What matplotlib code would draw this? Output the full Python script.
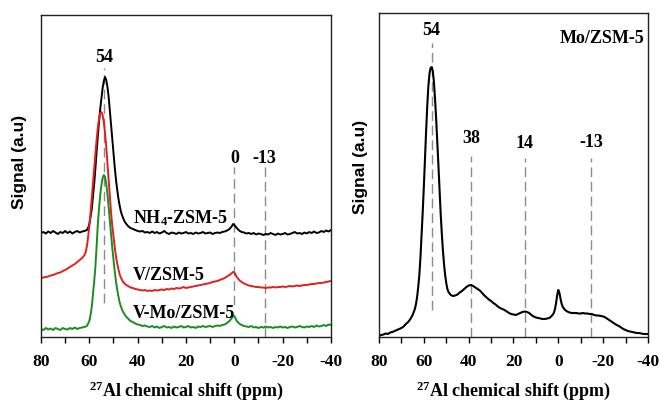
import matplotlib
matplotlib.use("Agg")
import matplotlib.pyplot as plt
from matplotlib.ticker import MultipleLocator

plt.rcParams['font.family'] = ['Liberation Serif', 'DejaVu Serif']
plt.rcParams['font.weight'] = 'bold'
plt.rcParams['mathtext.default'] = 'regular'

# ---------------- data ----------------
# Left panel: NH4-ZSM-5 (black)
nh4_ppm = [80, 79, 78, 77, 76, 75, 74, 73, 72, 71, 70, 69, 68, 67, 66, 65, 64, 63, 62, 61,
           60.5, 60, 59.5, 59, 58.5, 58, 57.5, 57, 56.5, 56, 55.5, 55, 54.5, 54, 53.5, 53, 52.5,
           52, 51.5, 51, 50.5, 50, 49.5, 49, 48.5, 48, 47.5, 47, 46.5, 46, 45.5, 45, 44.5, 44,
           43, 42, 41, 40, 39, 38, 37, 36, 35, 34, 33, 32, 31, 30, 29, 28, 27, 26, 25, 24, 23,
           22, 21, 20, 19, 18, 17, 16, 15, 14, 13, 12, 11, 10, 9, 8, 7, 6, 5, 4, 3, 2, 1, 0.5,
           0, -1, -2, -3, -4, -5, -6, -7, -8, -9, -10, -11, -12, -13, -14, -15, -16, -17, -18,
           -19, -20, -21, -22, -23, -24, -25, -26, -27, -28, -29, -30, -31, -32, -33, -34, -35,
           -36, -37, -38, -39, -40]
nh4_sig = [104, 105, 103.5, 105.5, 104, 106, 104.5, 103, 105, 104, 106, 104, 105.5, 103.5, 105,
           106, 104.5, 105.5, 106, 107,
           109, 113, 120, 128, 140, 153, 168, 185, 200, 215, 228, 239, 249, 256, 260, 257, 250,
           240, 226, 212, 198, 184, 170, 158, 148, 139, 132, 126, 122, 119, 116, 114, 112.5, 111,
           109, 108, 107, 106, 105.5, 106, 104.5, 105, 104, 105.5, 104, 105, 103.5, 104.5, 106,
           104, 103, 104.5, 104, 103, 104.5,
           103.5, 104, 105, 103.5, 104, 103, 104.5, 103.5, 104, 105, 103.5, 104, 104.5, 103, 104,
           104.5, 104, 105, 105.5, 106.5, 108, 111, 113,
           112, 109, 106.5, 105, 104.5, 103.5, 104, 103, 104, 102.5, 103.5, 103, 102, 103, 102.5,
           104, 103, 102, 103.5,
           102.5, 103, 104, 102.5, 103, 104, 105, 103.5, 104, 103, 104.5, 103.5, 105, 104, 105.5,
           104, 104.5, 106, 105, 106.5, 105.5, 107]

# Left panel: V/ZSM-5 (red)
v_ppm = [80, 79, 78, 77, 76, 75, 74, 73, 72, 71, 70, 69, 68, 67, 66, 65, 64, 63, 62, 61.5, 61,
         60.5, 60, 59.5, 59, 58.5, 58, 57.5, 57, 56.5, 56, 55.5, 55, 54.5, 54, 53.5, 53, 52.5,
         52, 51.5, 51, 50.5, 50, 49.5, 49, 48.5, 48, 47.5, 47, 46, 45, 44, 43, 42, 41, 40, 39,
         38, 37, 36, 35, 34, 33, 32, 31, 30, 29, 28, 27, 26, 25, 24, 23, 22, 21, 20, 19, 18, 17,
         16, 15, 14, 13, 12, 11, 10, 9, 8, 7, 6, 5, 4, 3, 2, 1, 0.5, 0, -0.5, -1, -2, -3, -4,
         -5, -6, -7, -8, -9, -10, -11, -12, -13, -14, -15, -16, -17, -18, -19, -20, -21, -22,
         -23, -24, -25, -26, -27, -28, -29, -30, -31, -32, -33, -34, -35, -36, -37, -38, -39, -40]
v_sig = [59, 59.5, 60, 60.5, 61.5, 62, 63, 64, 64.5, 66, 67, 68.5, 70, 71.5, 73, 75, 77, 79, 82,
         85, 91,
         100, 111, 124, 139, 155, 168, 183, 197, 209, 218, 224, 225, 222, 215, 204, 190, 174,
         157, 140, 124, 111, 100, 90, 81, 74, 68, 63, 59.5, 55, 52.5, 51, 49.5, 49, 48, 47.5, 47,
         46.5, 47, 46, 46.5, 46, 47, 46.5, 47, 47.5, 47, 48, 47.5, 48.5, 48, 49, 48.5, 49, 50, 49,
         49.5, 50, 50.5,
         51, 51.5, 52, 52.5, 53, 53.5, 54, 55, 55.5, 56, 57, 58, 59, 60.5, 62, 64, 65, 64.5,
         62.5, 60, 57, 55, 53.5,
         52.5, 51.5, 51, 50.5, 50, 50, 49.5, 49.5, 49, 49.5, 49.5, 50, 49.5, 50, 50, 50.5, 50,
         50.5,
         51, 50.5, 51, 51.5, 51, 51.5, 52, 52, 52.5, 53, 53, 53.5, 54, 54, 54.5, 55, 55.5, 56]

# Left panel: V-Mo/ZSM-5 (green)
vmo_ppm = [80, 79, 78, 77, 76, 75, 74, 73, 72, 71, 70, 69, 68, 67, 66, 65, 64, 63, 62, 61,
           60, 59.5, 59, 58.5, 58, 57.5, 57, 56.5, 56, 55.5, 55, 54.5, 54, 53.5, 53, 52.5, 52,
           51.5, 51, 50.5, 50, 49.5, 49, 48.5, 48, 47.5, 47, 46.5, 46, 45, 44, 43, 42, 41, 40,
           39, 38, 37, 36, 35, 34, 33, 32, 31, 30, 29, 28, 27, 26, 25, 24, 23, 22, 21, 20, 19,
           18, 17, 16, 15, 14, 13, 12, 11, 10, 9, 8, 7, 6, 5, 4, 3, 2, 1, 0.5, 0, -0.5, -1, -2,
           -3, -4, -5, -6, -7, -8, -9, -10, -11, -12, -13, -14, -15, -16, -17, -18, -19, -20,
           -21, -22, -23, -24, -25, -26, -27, -28, -29, -30, -31, -32, -33, -34, -35, -36, -37,
           -38, -39, -40]
vmo_sig = [8, 7, 9, 7.5, 8.5, 7, 9, 8, 7, 9, 8, 7.5, 9, 8, 9.5, 8, 9, 9.5, 10, 11,
           16, 22, 30, 42, 55, 70, 90, 112, 128, 142, 152, 159, 162, 160, 153, 143, 130,
           116, 102, 89, 77, 66, 56, 48, 41, 35, 31, 27.5, 25, 21, 18.5, 16, 15, 13.5, 12.5,
           12, 11, 11.5, 10.5, 10, 11, 9.5, 10.5, 9, 10, 11, 9.5, 10, 9, 10.5, 9.5, 10, 11, 9.5,
           10, 11,
           9.5, 10, 9, 10.5, 10, 11, 10, 10.5, 11, 10, 11, 11.5, 11, 12, 12.5, 14, 16, 19, 21.5,
           21, 18.5, 16, 13.5,
           12, 11, 10.5, 10, 11, 9.5, 10, 9, 10, 9.5, 10.5, 9.5, 10, 9, 10, 9.5, 10.5, 9.5,
           10, 9, 10, 10.5, 9.5, 10, 11, 10, 9.5, 10.5, 10, 11, 10, 11.5, 10.5, 11, 12,
           11, 12.5, 12]

# Right panel: Mo/ZSM-5 (black)
mo_ppm = [80, 79, 78, 77, 76, 75, 74, 73, 72, 71, 70, 69, 68, 67, 66, 65, 64, 63.5, 63, 62.5,
          62, 61.5, 61, 60.5, 60, 59.5, 59, 58.5, 58, 57.5, 57, 56.5, 56, 55.5, 55, 54.5, 54,
          53.5, 53, 52.5, 52, 51.5, 51, 50.5, 50, 49.5, 49, 48, 47, 46, 45, 44, 43, 42, 41, 40,
          39, 38, 37, 36, 35, 34, 33, 32, 31, 30, 29, 28, 27, 26, 25, 24, 23, 22, 21, 20, 19,
          18, 17, 16, 15, 14, 13, 12, 11, 10, 9, 8, 7, 6, 5, 4, 3, 2, 1.5, 1, 0.5, 0, -0.5, -1,
          -1.5, -2, -3, -4, -5, -6, -7, -8, -9, -10, -11, -12, -13, -14, -15, -16, -17, -18,
          -19, -20, -21, -22, -23, -24, -25, -26, -27, -28, -29, -30, -31, -32, -33, -34, -35,
          -36, -37, -38, -39, -40]
mo_sig = [1, 2, 2.5, 3.5, 3, 4.5, 5, 6, 7, 8, 9, 10.5, 13, 15, 18, 22, 28, 33, 40, 50,
          62, 80, 102, 125, 150, 178, 205, 230, 250, 263, 269, 270, 266, 255, 238, 218, 196,
          172, 148, 124, 104, 87, 73, 62, 54, 48, 45, 42, 41, 41.5, 42.5, 44.5, 46, 48, 50, 51.5,
          52, 51, 49.5, 48, 46.5, 44, 41.5, 39.5, 37.5, 36, 34, 32.5, 30.5, 29, 28, 27, 25.5, 24,
          23, 22.5, 22,
          23, 24, 25, 25.5, 25, 24, 22, 20.5, 19.5, 19, 18.5, 18, 18, 18.5, 19, 21, 24, 28, 34,
          42, 47, 44, 38,
          33, 30, 27, 25.5, 24.5, 24, 24, 24, 23.5, 23.5, 24, 23.5, 23.5, 23, 23, 22, 21.5, 21.5,
          21, 20.5, 19.5, 18, 16.5, 15, 13.5, 12, 11, 9.5, 8, 7, 6, 5.5, 5, 4.5, 4,
          4, 3.5, 3, 3, 3]

# peak annotations
left_peak_labels = ['54', '0', '-13']
left_peak_pos = [54, 0, -12.5]
right_peak_labels = ['54', '38', '14', '-13']
right_peak_pos = [56.5, 39, 15, -14.5]

series_left = ['NH$_4$-ZSM-5', 'V/ZSM-5', 'V-Mo/ZSM-5']
title_right = 'Mo/ZSM-5'
xticks = [80, 60, 40, 20, 0, -20, -40]

# ---------------- figure ----------------
W, H = 660, 404
fig = plt.figure(figsize=(W / 100, H / 100), dpi=100)
ax1 = fig.add_axes([41 / W, (H - 337) / H, 290 / W, 322 / H])
ax2 = fig.add_axes([379 / W, (H - 337) / H, 269 / W, 324 / H])

dash_col = '#8c8c8c'
FS = 13

ax1.plot(nh4_ppm, nh4_sig, color='black', lw=1.4)
ax1.plot(v_ppm, v_sig, color='#e0201e', lw=1.4)
ax1.plot(vmo_ppm, vmo_sig, color='#1a8c22', lw=1.4)
ax2.plot(mo_ppm, mo_sig, color='black', lw=1.5)

# dashed marker lines (left)
left_line_ranges = [(34, 269), (32, 170), (0, 170)]
left_text_y = [275, 174, 174]
for lab, pos, (y0, y1), ty in zip(left_peak_labels, left_peak_pos, left_line_ranges, left_text_y):
    ax1.plot([pos, pos], [y0, y1], color=dash_col, lw=1.0, dashes=(7, 3.5), zorder=1)
    ax1.text(pos, ty, lab, ha='center', va='baseline', fontsize=FS, fontweight='bold')

right_line_ranges = [(27, 302), (0, 189), (0, 187), (0, 187)]
right_text_y = [302, 194, 189, 190]
for lab, pos, (y0, y1), ty in zip(right_peak_labels, right_peak_pos, right_line_ranges, right_text_y):
    ax2.plot([pos, pos], [y0, y1 - 8], color=dash_col, lw=1.0, dashes=(7, 3.5), zorder=1)
    ax2.text(pos, ty, lab, ha='center', va='baseline', fontsize=FS, fontweight='bold')

# curve labels
label_y = [114, 57, 19]
for lab, y in zip(series_left, label_y):
    ax1.text(42, y, lab, ha='left', va='baseline', fontsize=FS, fontweight='bold')
ax2.text(-38.3, 294, title_right, ha='right', va='baseline', fontsize=FS, fontweight='bold')

for ax, ytop in ((ax1, 322), (ax2, 324)):
    ax.set_xlim(80, -40)
    ax.set_ylim(0, ytop)
    ax.set_yticks([])
    ax.set_xticks(xticks)
    ax.set_xticklabels([str(t) for t in xticks])
    ax.xaxis.set_minor_locator(MultipleLocator(10))
    ax.tick_params(axis='x', which='both', direction='out', length=4, width=1.0,
                   labelsize=12.5, pad=8, top=False)
    for sp in ax.spines.values():
        sp.set_linewidth(1.0)
        sp.set_color('#222222')
    for t in ax.get_xticklabels():
        t.set_fontweight('bold')
    ax.set_xlabel('$^{27}$Al chemical shift (ppm)', fontsize=FS, fontweight='bold', labelpad=7)

fig.text(20 / W, 1 - 162 / H, 'Signal (a.u)', rotation=90, ha='center', va='center',
         fontsize=12.5, fontweight='bold', family=['Liberation Sans', 'DejaVu Sans'])
fig.text(360 / W, 1 - 167 / H, 'Signal (a.u)', rotation=90, ha='center', va='center',
         fontsize=12.5, fontweight='bold', family=['Liberation Sans', 'DejaVu Sans'])

fig.savefig('out.png', dpi=100)
